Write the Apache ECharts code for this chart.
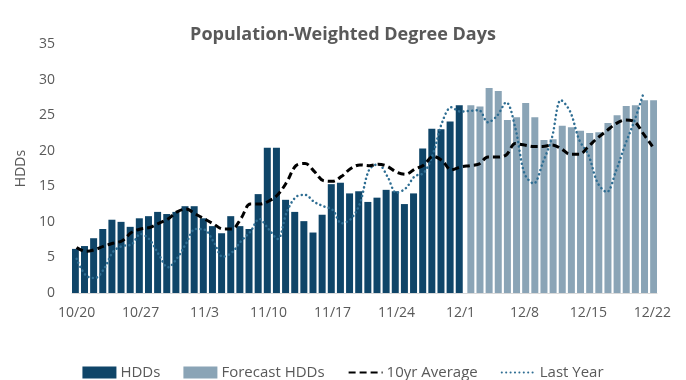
<!DOCTYPE html>
<html>
<head>
<meta charset="utf-8">
<script src="https://cdn.jsdelivr.net/npm/echarts@6/dist/echarts.min.js"></script>
<style>
html,body{margin:0;padding:0;background:#fff;}
#c{width:686px;height:380px;}
</style>
</head>
<body>
<div id="c"></div>
<script>
var dates = [
 '10/20','10/21','10/22','10/23','10/24','10/25','10/26','10/27','10/28','10/29','10/30','10/31',
 '11/1','11/2','11/3','11/4','11/5','11/6','11/7','11/8','11/9','11/10','11/11','11/12','11/13','11/14','11/15',
 '11/16','11/17','11/18','11/19','11/20','11/21','11/22','11/23','11/24','11/25','11/26','11/27','11/28','11/29','11/30',
 '12/1','12/2','12/3','12/4','12/5','12/6','12/7','12/8','12/9','12/10','12/11','12/12','12/13','12/14','12/15',
 '12/16','12/17','12/18','12/19','12/20','12/21','12/22'
];

// Observed HDDs 10/20 - 12/1
var hdds = [6.2,6.6,7.7,9.0,10.3,10.0,9.3,10.5,10.8,11.4,11.1,11.4,12.2,12.2,10.5,9.4,8.4,10.8,9.4,9.0,
 13.9,20.4,20.4,13.1,11.4,10.1,8.5,11.0,15.3,15.5,14.0,14.3,12.8,13.4,14.5,14.3,12.5,14.0,20.3,23.1,23.0,24.1,26.4];

// Forecast HDDs 12/2 - 12/22
var forecast = [26.4,26.2,28.8,28.4,24.3,24.7,26.7,24.7,21.5,21.6,23.5,23.3,22.8,22.5,22.6,23.9,25.0,26.3,26.4,27.1,27.1];

// 10yr average 10/20 - 12/22
var avg10 = [6.4,5.85,6.1,6.6,7.0,7.35,8.5,9.0,9.2,9.8,10.4,11.4,11.8,11.1,10.4,9.7,9.0,9.0,10.5,12.5,
 12.5,12.9,13.8,15.6,17.9,18.2,17.1,15.8,15.7,16.4,17.5,18.0,17.9,18.1,17.8,17.0,16.7,17.4,18.0,19.2,
 18.6,17.3,17.7,17.9,18.1,19.1,19.1,19.4,21.0,20.8,20.6,20.6,20.8,20.3,19.5,19.5,20.6,21.8,22.8,23.8,
 24.3,24.1,22.4,20.6];

// Last year 10/20 - 12/21
var lastYear = [4.8,2.5,2.1,3.4,5.8,6.6,6.8,8.3,7.5,5.4,3.6,4.9,7.0,9.0,8.9,7.2,5.1,5.7,7.3,8.6,
 10.4,9.0,7.6,11.4,13.5,13.8,12.8,12.2,11.7,9.8,10.4,12.6,17.3,18.1,16.4,14.1,14.7,16.4,16.9,19.6,
 24.0,26.1,25.5,25.6,25.7,24.0,24.9,26.8,23.2,16.8,15.4,18.3,21.8,27.1,25.5,21.5,19.4,15.5,14.2,17.1,
 20.8,24.1,28.0];

var yTicks = {min:0, max:35, interval:5};

function pad(arr, before, total){
  var out = [];
  for (var i=0;i<before;i++) out.push(null);
  for (var j=0;j<arr.length;j++) out.push(arr[j]);
  while (out.length < total) out.push(null);
  return out;
}
var N = dates.length;
var hddSeries = pad(hdds, 0, N);
var fcSeries = pad(forecast, hdds.length, N);
var lySeries = pad(lastYear, 0, N);

var FONT = '"Open Sans", "DejaVu Sans", sans-serif';
var chart = echarts.init(document.getElementById('c'), null, {renderer:'canvas'});
chart.setOption({
  animation:false,
  backgroundColor:'#ffffff',
  textStyle:{fontFamily:FONT},
  title:{
    text:'Population-Weighted Degree Days',
    left:'center', top:21,
    textStyle:{fontFamily:FONT, fontSize:18, fontWeight:'bold', color:'#595959'}
  },
  legend:{
    top:360, left:'center',
    itemWidth:34, itemHeight:12, itemGap:23,
    textStyle:{fontFamily:FONT, fontSize:15, color:'#595959', padding:[0,0,0,-1]},
    data:[
      {name:'HDDs', icon:'rect'},
      {name:'Forecast HDDs', icon:'rect'},
      {name:'10yr Average', itemStyle:{opacity:0}},
      {name:'Last Year', itemStyle:{opacity:0}}
    ]
  },
  grid:{left:72, right:29, top:44, bottom:87, containLabel:false},
  xAxis:{
    type:'category', data:dates, boundaryGap:true,
    axisTick:{show:false},
    axisLine:{lineStyle:{color:'#d9d9d9', width:1}},
    axisLabel:{interval:6, color:'#595959', fontSize:14, margin:13, fontFamily:FONT}
  },
  yAxis:{
    type:'value', min:yTicks.min, max:yTicks.max, interval:yTicks.interval,
    name:'HDDs', nameLocation:'middle', nameGap:44, nameRotate:90,
    nameTextStyle:{color:'#595959', fontSize:14, fontFamily:FONT},
    splitLine:{show:false}, axisLine:{show:false}, axisTick:{show:false},
    axisLabel:{color:'#595959', fontSize:14, margin:17, fontFamily:FONT}
  },
  series:[
    {name:'HDDs', type:'bar', data:hddSeries, barWidth:7, barGap:'-65%',
     itemStyle:{color:'#0f4568'}, z:2},
    {name:'Forecast HDDs', type:'bar', data:fcSeries, barWidth:7, barGap:'-65%',
     itemStyle:{color:'#8aa4b6'}, z:2},
    {name:'10yr Average', type:'line', data:avg10, smooth:0.35, symbol:'none',
     lineStyle:{color:'#000000', width:3, type:[7,4], cap:'butt'},
     itemStyle:{color:'#000000'}, z:4},
    {name:'Last Year', type:'line', data:lySeries, smooth:0.35, symbol:'none', connectNulls:false,
     lineStyle:{color:'#2f6e93', width:2.5, type:[0.1,4.3], cap:'round'},
     itemStyle:{color:'#2f6e93'}, z:3}
  ]
});
</script>
</body>
</html>
